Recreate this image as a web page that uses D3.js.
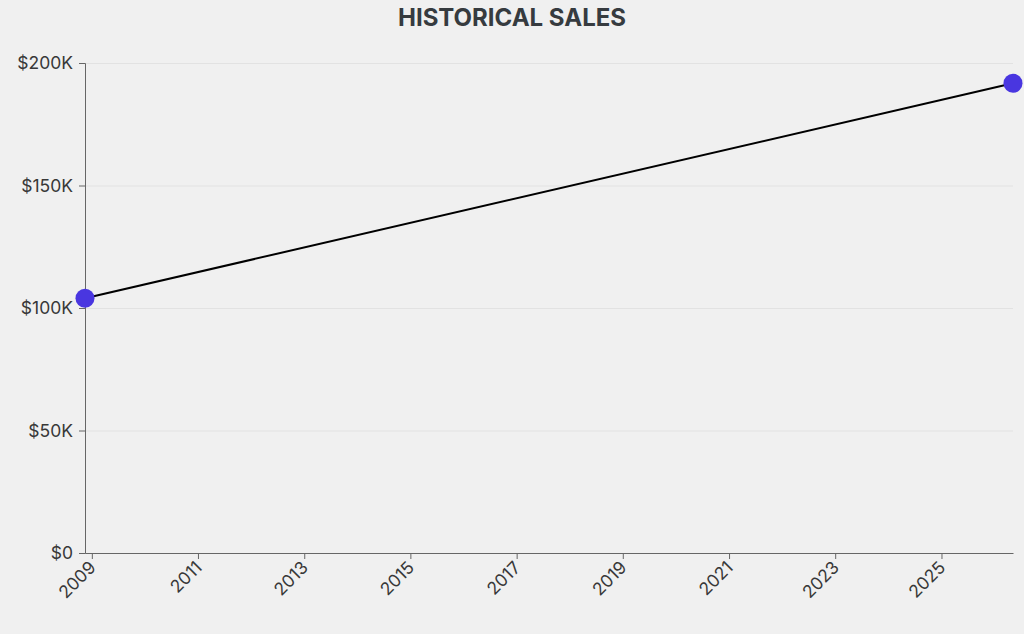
<!DOCTYPE html>
<html lang="en">

<head>
    <meta charset="UTF-8">
    <title>Historical Sales</title>
    <script src="https://d3js.org/d3.v7.min.js"></script>
    <style>
        body {
            margin: 0;
            background-color: #f0f0f0;
            font-family: Inter, "Noto Sans", sans-serif;
        }

        .title {
            font-size: 24px;
            font-weight: 700;
            fill: #363b3f;
        }

        .axis text {
            font-family: Inter, "Noto Sans", sans-serif;
            font-size: 17.5px;
            fill: #383838;
        }

        .axis path,
        .axis line {
            stroke: #666;
        }

        .grid line {
            stroke: #e2e2e2;
            stroke-width: 1px;
        }

        .grid path {
            display: none;
        }
    </style>
</head>

<body>
    <svg width="1024" height="634"></svg>

    <script>
        // data
        const saleDates = ["2008-11-15", "2026-05-08"];
        const saleValues = [104000, 191700];
        const yTicks = [0, 50000, 100000, 150000, 200000];
        const xTickYears = [2009, 2011, 2013, 2015, 2017, 2019, 2021, 2023, 2025];

        const width = 1024;
        const height = 634;
        const margin = { top: 63, right: 11, bottom: 81, left: 85 };

        const parse = d3.timeParse("%Y-%m-%d");
        const data = saleDates.map((d, i) => ({ date: parse(d), value: saleValues[i] }));

        const svg = d3.select("svg");

        const x = d3.scaleTime()
            .domain(d3.extent(data, d => d.date))
            .range([margin.left, width - margin.right]);

        const y = d3.scaleLinear()
            .domain([0, 200000])
            .range([height - margin.bottom, margin.top]);

        // horizontal grid
        svg.append("g")
            .attr("class", "grid")
            .attr("transform", `translate(${margin.left},0)`)
            .call(d3.axisLeft(y).tickValues(yTicks).tickSize(-(width - margin.left - margin.right)).tickFormat(""));

        // x axis
        svg.append("g")
            .attr("class", "axis")
            .attr("transform", `translate(0,${height - margin.bottom})`)
            .call(d3.axisBottom(x)
                .tickValues(xTickYears.map(yr => new Date(yr, 0, 1)))
                .tickSizeOuter(0)
                .tickFormat(d3.timeFormat("%Y")))
            .selectAll("text")
            .style("text-anchor", "end")
            .attr("dx", "-.45em")
            .attr("dy", ".3em")
            .attr("transform", "rotate(-45)");

        // y axis
        svg.append("g")
            .attr("class", "axis")
            .attr("transform", `translate(${margin.left},0)`)
            .call(d3.axisLeft(y).tickValues(yTicks).tickPadding(6).tickFormat(d => d === 0 ? "$0" : "$" + d / 1000 + "K"));

        const line = d3.line()
            .x(d => x(d.date))
            .y(d => y(d.value));

        svg.append("path")
            .datum(data)
            .attr("fill", "none")
            .attr("stroke", "black")
            .attr("stroke-width", 2)
            .attr("d", line);

        svg.selectAll("circle")
            .data(data)
            .join("circle")
            .attr("cx", d => x(d.date))
            .attr("cy", d => y(d.value))
            .attr("r", 9.5)
            .attr("fill", "#4936e0");

        svg.append("text")
            .attr("class", "title")
            .attr("x", width / 2)
            .attr("y", 26)
            .attr("text-anchor", "middle")
            .text("HISTORICAL SALES");
    </script>
</body>

</html>
